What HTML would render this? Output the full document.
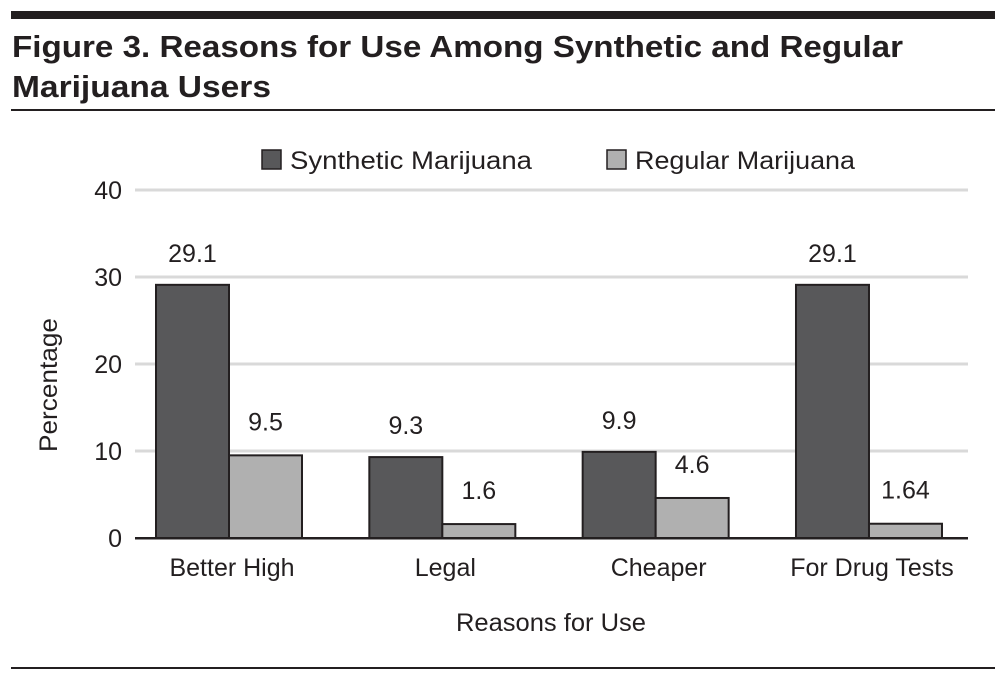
<!DOCTYPE html>
<html><head><meta charset="utf-8"><style>
html,body{margin:0;padding:0;background:#fff;}
svg{display:block;font-family:"Liberation Sans",sans-serif;}
</style></head><body>
<svg id="c" width="1006" height="681" viewBox="0 0 1006 681">
<rect x="11" y="11" width="984" height="8" fill="#231f20"/>
<text x="12" y="57" font-size="31" font-weight="bold" fill="#231f20" textLength="891" lengthAdjust="spacingAndGlyphs">Figure 3. Reasons for Use Among Synthetic and Regular</text>
<text x="12" y="97" font-size="31" font-weight="bold" fill="#231f20" textLength="259" lengthAdjust="spacingAndGlyphs">Marijuana Users</text>
<rect x="11" y="109" width="984" height="2" fill="#231f20"/>
<rect x="11" y="667" width="984" height="2" fill="#231f20"/>
<g id="legend">
<rect x="262" y="150" width="19" height="19" fill="#58585a" stroke="#231f20" stroke-width="1.5"/>
<text x="290" y="169" font-size="25" fill="#231f20" textLength="242" lengthAdjust="spacingAndGlyphs">Synthetic Marijuana</text>
<rect x="607" y="150" width="19" height="19" fill="#b0b0b0" stroke="#231f20" stroke-width="1.5"/>
<text x="635" y="169" font-size="25" fill="#231f20" textLength="220" lengthAdjust="spacingAndGlyphs">Regular Marijuana</text>
</g>
<g id="grid"></g>
<g id="bars"></g>
<text transform="translate(57,385) rotate(-90)" text-anchor="middle" font-size="25" fill="#231f20" textLength="134" lengthAdjust="spacingAndGlyphs">Percentage</text>
<text x="551" y="631" text-anchor="middle" font-size="25" fill="#231f20" textLength="190" lengthAdjust="spacingAndGlyphs">Reasons for Use</text>
</svg>
<script>
const categories = ["Better High", "Legal", "Cheaper", "For Drug Tests"];
const synthetic = [29.1, 9.3, 9.9, 29.1];
const regular = [9.5, 1.6, 4.6, 1.64];
const syntheticLabels = ["29.1", "9.3", "9.9", "29.1"];
const regularLabels = ["9.5", "1.6", "4.6", "1.64"];
const yTicks = [0, 10, 20, 30, 40];

const NS = "http://www.w3.org/2000/svg";
const y = v => 538 - v * 8.7;
const xc = i => 229 + i * 213.33;
const BW = 73;
function mk(tag, attrs, parent, txt) {
  const e = document.createElementNS(NS, tag);
  for (const k in attrs) e.setAttribute(k, attrs[k]);
  if (txt !== undefined) e.textContent = txt;
  parent.appendChild(e);
  return e;
}
const grid = document.getElementById('grid');
const bars = document.getElementById('bars');
yTicks.forEach(t => {
  if (t > 0) {
    const l = mk('rect', {x: 135, y: y(t) - 1.5, width: 833, height: 3, fill: '#d9d9d9'}, grid);
    
    
  }
  const tx = mk('text', {x: 122, y: y(t) + 9, 'text-anchor': 'end', 'font-size': 25, fill: '#231f20'}, grid, String(t));
  
  
});
categories.forEach((c, i) => {
  const cx = xc(i);
  const b1 = mk('rect', {x: cx - BW, y: y(synthetic[i]), width: BW, height: y(0) - y(synthetic[i]), fill: '#58585a', stroke: '#231f20', 'stroke-width': 2}, bars);
  
  
  const b2 = mk('rect', {x: cx, y: y(regular[i]), width: BW, height: y(0) - y(regular[i]), fill: '#b0b0b0', stroke: '#231f20', 'stroke-width': 2}, bars);
  
  
  const l1 = mk('text', {x: cx - BW / 2, y: y(synthetic[i]) - 23, 'text-anchor': 'middle', 'font-size': 25, fill: '#231f20'}, bars, syntheticLabels[i]);
  
  
  const l2 = mk('text', {x: cx + BW / 2, y: y(regular[i]) - 25, 'text-anchor': 'middle', 'font-size': 25, fill: '#231f20'}, bars, regularLabels[i]);
  
  
  const cl = mk('text', {x: cx + 3, y: 576, 'text-anchor': 'middle', 'font-size': 25, fill: '#231f20'}, bars, c);
  
  
});
const ax = mk('rect', {x: 135, y: 537, width: 833, height: 2.5, fill: '#231f20'}, bars);


</script>
</body></html>
